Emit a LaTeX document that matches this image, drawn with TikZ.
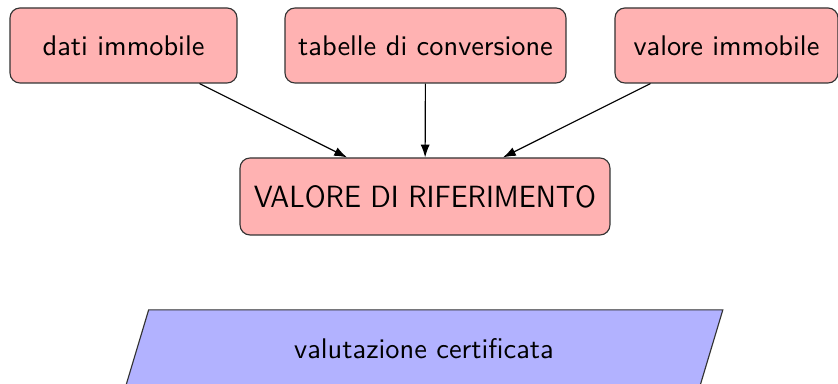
\documentclass[tikz,border=0pt]{standalone}
\usetikzlibrary{shapes.geometric,arrows.meta}
\begin{document}
\begin{tikzpicture}[x=0.352pt,y=-0.352pt,
  font=\sffamily,
  box/.style={draw=black!80, fill=red!30, rounded corners=3.5pt, inner sep=2pt, minimum height=26.4pt},
  outbox/.style={draw=black!80, fill=blue!30, trapezium, trapezium left angle=70, trapezium right angle=110, trapezium stretches=true, minimum width=210.7pt, minimum height=27.5pt, inner sep=2pt},
  arr/.style={-{Latex[length=4.5pt,width=3.2pt]}, black}]
\useasboundingbox (0,0) rectangle (838,384);
\node[box, minimum width=79.9pt] (dati) at (123.5,45.5) {dati immobile};
\node[box, minimum width=98.9pt] (tab) at (425.5,45.5) {tabelle di conversione};
\node[box, minimum width=78.5pt] (val) at (726.5,45.5) {valore immobile};
\node[box, minimum width=130.2pt, minimum height=27.1pt] (rif) at (425,196.5) {\scalebox{1}[1.08]{VALORE DI RIFERIMENTO}};
\node[outbox] (cert) at (424,349) {valutazione certificata};
\draw[arr] (dati) -- (rif);
\draw[arr] (tab) -- (rif);
\draw[arr] (val) -- (rif);
\end{tikzpicture}
\end{document}
